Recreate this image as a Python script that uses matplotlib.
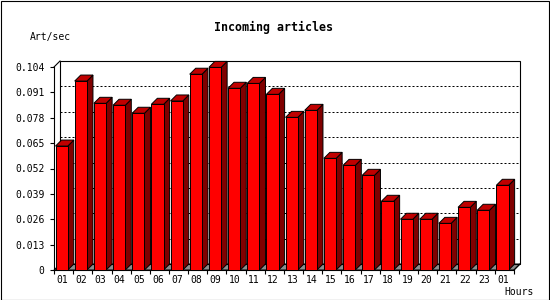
import numpy as np
import matplotlib
matplotlib.use("Agg")
import matplotlib.pyplot as plt
from matplotlib.patches import Polygon, Rectangle

# veriler
hours = ["01", "02", "03", "04", "05", "06", "07", "08", "09", "10", "11", "12",
         "13", "14", "15", "16", "17", "18", "19", "20", "21", "22", "23", "01"]
art_per_sec = [0.0635, 0.0968, 0.0854, 0.0844, 0.0803, 0.0849, 0.0866, 0.1003,
               0.1038, 0.0931, 0.0956, 0.0900, 0.0782, 0.0818, 0.0572, 0.0536,
               0.0485, 0.0352, 0.0260, 0.0260, 0.0239, 0.0321, 0.0306, 0.0434]
y_ticks = [0, 0.013, 0.026, 0.039, 0.052, 0.065, 0.078, 0.091, 0.104]
y_labels = ["0", "0.013", "0.026", "0.039", "0.052", "0.065", "0.078", "0.091", "0.104"]

plt.rcParams["font.family"] = "DejaVu Sans Mono"

W, H = 550, 300
fig = plt.figure(figsize=(W / 100, H / 100), dpi=100)
fig.patches.append(Rectangle((0.5 / W, 0.5 / H), (W - 1.5) / W, (H - 1.5) / H,
                             transform=fig.transFigure, fill=False,
                             edgecolor="black", linewidth=0.8))

# on duzlem: x 54-514, y 270-67
ax = fig.add_axes([54 / W, 30 / H, 460 / W, 203 / H])
n = len(art_per_sec)
ymax = y_ticks[-1]
ax.set_xlim(0, n)
ax.set_ylim(0, ymax)

# derinlik (6 piksel)
dx = 6 / (460 / n)
dy = 6 * ymax / 203

for s in ["top", "right"]:
    ax.spines[s].set_visible(False)
ax.spines["left"].set_linewidth(0.8)
ax.spines["bottom"].set_linewidth(0.8)
ax.patch.set_alpha(0)

# zemin
ax.add_patch(Polygon([(0, 0), (n, 0), (n + dx, dy), (dx, dy)], closed=True,
                     facecolor="#8c8c8c", edgecolor="black", linewidth=0.7,
                     clip_on=False, zorder=1))
# arka duzlem
ax.add_patch(Rectangle((dx, dy), n, ymax, fill=False, edgecolor="black",
                       linewidth=0.8, clip_on=False, zorder=1))
ax.plot([0, dx], [ymax, ymax + dy], color="black", lw=0.8, clip_on=False, zorder=1)
ax.plot([n, n + dx], [0, dy], color="black", lw=0.8, clip_on=False, zorder=1)

# izgara cizgileri
for t in y_ticks[1:-1]:
    ax.plot([dx, n + dx], [t + dy, t + dy], color="black", lw=0.72,
            dashes=(2, 2), clip_on=False, zorder=1)

# 3B cubuklar
off, bw = 0.08, 0.64
for i, v in enumerate(art_per_sec):
    x0 = i + off
    x1 = x0 + bw
    side = Polygon([(x1, 0), (x1 + dx, dy), (x1 + dx, v + dy), (x1, v)], closed=True,
                   facecolor="#800000", edgecolor="black", linewidth=0.7,
                   clip_on=False, zorder=3)
    top = Polygon([(x0, v), (x1, v), (x1 + dx, v + dy), (x0 + dx, v + dy)], closed=True,
                  facecolor="#c00000", edgecolor="black", linewidth=0.7,
                  clip_on=False, zorder=3)
    front = Rectangle((x0, 0), bw, v, facecolor="#ff0000", edgecolor="black",
                      linewidth=0.7, clip_on=False, zorder=3)
    ax.add_patch(side)
    ax.add_patch(top)
    ax.add_patch(front)

ax.set_yticks(y_ticks)
ax.set_yticklabels(y_labels, fontsize=7)
ax.set_xticks(np.arange(0, n + 1))
ax.set_xticklabels([])
ax.set_xticks(np.arange(n) + 0.43, minor=True)
ax.set_xticklabels(hours, minor=True, fontsize=7)
ax.tick_params(axis="y", length=3, width=0.8, pad=4)
ax.tick_params(axis="x", which="major", length=3, width=0.8)
ax.tick_params(axis="x", which="minor", length=0, pad=3.5)

fig.text(274 / W, 1 - 27 / H, "Incoming articles", ha="center", va="center",
         fontsize=8.4, fontweight="bold")
fig.text(30 / W, 1 - 37 / H, "Art/sec", ha="left", va="center", fontsize=7)
fig.text(534 / W, 1 - 292 / H, "Hours", ha="right", va="center", fontsize=7)

fig.savefig("out.png", dpi=100)
